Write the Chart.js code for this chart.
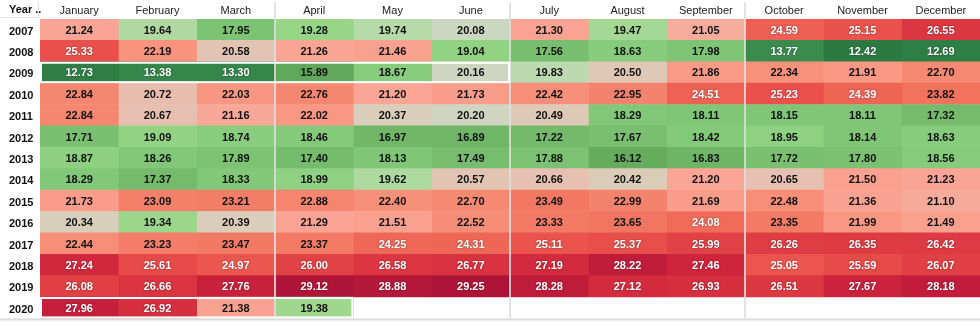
<!DOCTYPE html>
<html>
<head>
<meta charset="utf-8">
<script src="https://cdn.jsdelivr.net/npm/chart.js@4/dist/chart.umd.min.js"></script>
<style>
  html, body { margin: 0; padding: 0; background: #fff; }
</style>
</head>
<body>
<canvas id="heat" width="980" height="325"></canvas>
<script>
  var months = ['January', 'February', 'March', 'April', 'May', 'June',
    'July', 'August', 'September', 'October', 'November', 'December'];
  var years = ['2007', '2008', '2009', '2010', '2011', '2012', '2013',
    '2014', '2015', '2016', '2017', '2018', '2019', '2020'];

  // monthly values, one list per year
  var v2007 = [21.24, 19.64, 17.95, 19.28, 19.74, 20.08, 21.30, 19.47, 21.05, 24.59, 25.15, 26.55];
  var v2008 = [25.33, 22.19, 20.58, 21.26, 21.46, 19.04, 17.56, 18.63, 17.98, 13.77, 12.42, 12.69];
  var v2009 = [12.73, 13.38, 13.30, 15.89, 18.67, 20.16, 19.83, 20.50, 21.86, 22.34, 21.91, 22.70];
  var v2010 = [22.84, 20.72, 22.03, 22.76, 21.20, 21.73, 22.42, 22.95, 24.51, 25.23, 24.39, 23.82];
  var v2011 = [22.84, 20.67, 21.16, 22.02, 20.37, 20.20, 20.49, 18.29, 18.11, 18.15, 18.11, 17.32];
  var v2012 = [17.71, 19.09, 18.74, 18.46, 16.97, 16.89, 17.22, 17.67, 18.42, 18.95, 18.14, 18.63];
  var v2013 = [18.87, 18.26, 17.89, 17.40, 18.13, 17.49, 17.88, 16.12, 16.83, 17.72, 17.80, 18.56];
  var v2014 = [18.29, 17.37, 18.33, 18.99, 19.62, 20.57, 20.66, 20.42, 21.20, 20.65, 21.50, 21.23];
  var v2015 = [21.73, 23.09, 23.21, 22.88, 22.40, 22.70, 23.49, 22.99, 21.69, 22.48, 21.36, 21.10];
  var v2016 = [20.34, 19.34, 20.39, 21.29, 21.51, 22.52, 23.33, 23.65, 24.08, 23.35, 21.99, 21.49];
  var v2017 = [22.44, 23.23, 23.47, 23.37, 24.25, 24.31, 25.11, 25.37, 25.99, 26.26, 26.35, 26.42];
  var v2018 = [27.24, 25.61, 24.97, 26.00, 26.58, 26.77, 27.19, 28.22, 27.46, 25.05, 25.59, 26.07];
  var v2019 = [26.08, 26.66, 27.76, 29.12, 28.88, 29.25, 28.28, 27.12, 26.93, 26.51, 27.67, 28.18];
  var v2020 = [27.96, 26.92, 21.38, 19.38];

  var rows = [v2007, v2008, v2009, v2010, v2011, v2012, v2013,
    v2014, v2015, v2016, v2017, v2018, v2019, v2020];

  // outlined blocks: year, first month index, month count
  var boxes = [['2009', 0, 6], ['2020', 0, 4]];

  // colour ramp, green (low) -> beige -> red (high)
  var rampVals = [12.4, 14.0, 16.0, 17.5, 18.7, 19.3, 19.7, 20.1, 20.4, 20.7, 21.2, 22.2, 23.0, 24.0, 25.2, 26.5, 27.5, 29.3];
  var rampCols = [
    [44, 122, 66], [62, 142, 80], [100, 170, 92], [118, 190, 110], [135, 205, 125],
    [152, 214, 135], [180, 218, 165], [205, 215, 195], [218, 205, 185], [232, 190, 175],
    [250, 165, 150], [248, 148, 125], [244, 130, 108], [240, 110, 90], [234, 82, 76],
    [220, 56, 66], [205, 35, 60], [172, 20, 55]
  ];

  function heatColor(v) {
    if (v <= rampVals[0]) return 'rgb(' + rampCols[0].join(',') + ')';
    for (var i = 1; i < rampVals.length; i++) {
      if (v <= rampVals[i]) {
        var t = (v - rampVals[i - 1]) / (rampVals[i] - rampVals[i - 1]);
        var a = rampCols[i - 1], b = rampCols[i];
        return 'rgb(' + [0, 1, 2].map(function (k) {
          return Math.round(a[k] + (b[k] - a[k]) * t);
        }).join(',') + ')';
      }
    }
    return 'rgb(' + rampCols[rampCols.length - 1].join(',') + ')';
  }

  function textColor(v) {
    return (v >= 24 || v < 15) ? '#fff' : '#111';
  }

  // one dataset per month, a floating bar [m, m+1] for every year
  var datasets = months.map(function (name, m) {
    return {
      label: name,
      data: rows.map(function (r) { return r[m] == null ? null : [m, m + 1]; }),
      backgroundColor: rows.map(function (r) { return r[m] == null ? 'rgba(0,0,0,0)' : heatColor(r[m]); })
    };
  });

  var FONT = '"Liberation Sans", Arial, sans-serif';
  Chart.defaults.font.family = FONT;

  var heatDecor = {
    id: 'heatDecor',
    afterDatasetsDraw: function (chart) {
      var ctx = chart.ctx,
        xs = chart.scales.x,
        ys = chart.scales.y,
        area = chart.chartArea;
      var rowH = (ys.bottom - ys.top) / years.length;

      ctx.save();

      // quarter separators
      ctx.strokeStyle = 'rgba(222,222,222,0.85)';
      ctx.lineWidth = 2;
      [3, 6, 9].forEach(function (q) {
        var px = Math.round(xs.getPixelForValue(q));
        ctx.beginPath();
        ctx.moveTo(px, 2);
        ctx.lineTo(px, area.bottom);
        ctx.stroke();
      });

      // outlined blocks
      ctx.strokeStyle = '#fff';
      ctx.lineWidth = 2;
      boxes.forEach(function (b) {
        var yc = ys.getPixelForValue(years.indexOf(b[0]));
        var x0 = xs.getPixelForValue(b[1]), x1 = xs.getPixelForValue(b[1] + b[2]);
        ctx.strokeRect(x0 + 1, yc - rowH / 2 + 1, x1 - x0 - 2, rowH - 2);
      });

      // cell values
      ctx.font = 'bold 11px ' + FONT;
      ctx.textAlign = 'center';
      ctx.textBaseline = 'middle';
      chart.data.datasets.forEach(function (ds, m) {
        chart.getDatasetMeta(m).data.forEach(function (bar, i) {
          var v = rows[i][m];
          if (v == null) return;
          var c = bar.getCenterPoint();
          var col = textColor(v);
          if (col === '#fff') {
            ctx.shadowColor = 'rgba(0,0,0,0.45)';
            ctx.shadowBlur = 2;
          } else {
            ctx.shadowColor = 'rgba(0,0,0,0)';
            ctx.shadowBlur = 0;
          }
          ctx.fillStyle = col;
          ctx.fillText(v.toFixed(2), c.x, c.y + 1);
        });
      });
      ctx.shadowBlur = 0;
      ctx.shadowColor = 'rgba(0,0,0,0)';

      // header corner
      ctx.fillStyle = '#111';
      ctx.textAlign = 'left';
      ctx.fillText('Year ..', ys.left, 10);
      ctx.strokeStyle = '#e2e2e2';
      ctx.lineWidth = 1;
      ctx.beginPath();
      ctx.moveTo(0, area.top - 1.5);
      ctx.lineTo(area.left - 2, area.top - 1.5);
      ctx.moveTo(area.left - 1.5, 2);
      ctx.lineTo(area.left - 1.5, area.top - 1);
      ctx.stroke();

      // bottom rule
      ctx.strokeStyle = '#dcdcdc';
      ctx.lineWidth = 2;
      ctx.beginPath();
      ctx.moveTo(0, area.bottom + 1);
      ctx.lineTo(area.right, area.bottom + 1);
      ctx.stroke();

      ctx.restore();
    }
  };

  var ctx = document.getElementById('heat').getContext('2d');
  window.heatChart = new Chart(ctx, {
    type: 'bar',
    data: {
      labels: years,
      datasets: datasets
    },
    options: {
      responsive: false,
      animation: false,
      devicePixelRatio: 1,
      indexAxis: 'y',
      layout: { padding: { left: 9, right: 0, top: 0, bottom: 2 } },
      datasets: {
        bar: { grouped: false, barPercentage: 1, categoryPercentage: 1, borderWidth: 0 }
      },
      plugins: {
        legend: { display: false },
        tooltip: { enabled: false }
      },
      scales: {
        x: { type: 'linear', min: 0, max: 12, display: false },
        x2: {
          type: 'category',
          labels: months,
          position: 'top',
          offset: true,
          grid: { display: false },
          border: { display: false },
          ticks: { color: '#222', font: { size: 11 }, padding: -7, maxRotation: 0, autoSkip: false },
          afterFit: function (s) { s.height = 19; }
        },
        y: {
          type: 'category',
          offset: true,
          grid: { display: false },
          border: { display: false },
          ticks: { color: '#111', font: { size: 11, weight: 'bold' }, padding: 0, labelOffset: 2, crossAlign: 'far', autoSkip: false },
          afterFit: function (s) { s.width = 31; }
        }
      }
    },
    plugins: [heatDecor]
  });
</script>
</body>
</html>
